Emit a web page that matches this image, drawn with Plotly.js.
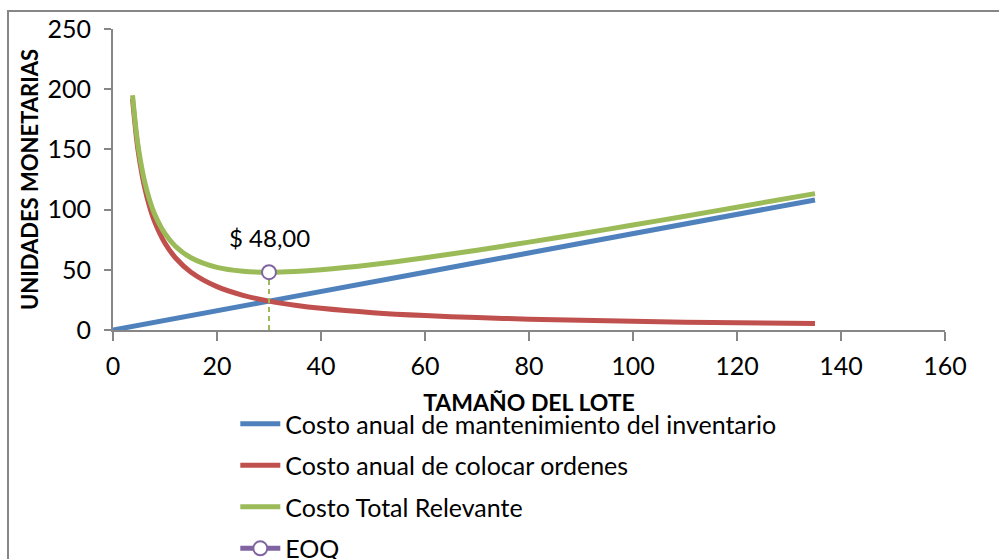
<!DOCTYPE html>
<html>
<head>
<meta charset="utf-8">
<script src="https://cdn.plot.ly/plotly-3.0.1.min.js"></script>
<style>
  html, body { margin: 0; padding: 0; background: #fff; }
  #chart { width: 999px; height: 559px; }
</style>
</head>
<body>
<div id="chart"></div>
<script>
// Lot size (units) for the ordering / total cost curves
const lotSizes = [3.75, 4.5, 5, 6, 7, 8, 10, 12, 15, 20, 25, 30, 35, 40, 50, 60, 70, 80, 90, 100, 110, 120, 135];
// Annual cost of placing orders
const orderingCost = [192, 160, 144, 120, 102.9, 90, 72, 60, 48, 36, 28.8, 24, 20.6, 18, 14.4, 12, 10.3, 9, 8, 7.2, 6.5, 6, 5.3];
// Total relevant cost (holding + ordering)
const totalCost = [195, 163.6, 148, 124.8, 108.5, 96.4, 80, 69.6, 60, 52, 48.8, 48, 48.6, 50, 54.4, 60, 66.3, 73, 80, 87.2, 94.5, 102, 113.3];
// Annual inventory holding cost
const holdingLots = [0, 30, 60, 90, 135];
const holdingCost = [0, 24, 48, 72, 108];
// Economic order quantity and its total cost
const eoqLot = [30];
const eoqCost = [48];

const seriesNames = [
  'Costo anual de mantenimiento del inventario',
  'Costo anual de colocar ordenes',
  'Costo Total Relevante',
  'EOQ'
];

const FONT = 'Lato, "Open Sans", sans-serif';
const BLUE = '#4F81BD', RED = '#C0504D', GREEN = '#9BBB59', PURPLE = '#8064A2';
const AXIS = '#868686';

const traces = [
  { x: holdingLots, y: holdingCost, name: seriesNames[0], mode: 'lines', legendgroup: 'a',
    line: { color: BLUE, width: 5, shape: 'spline' } },
  { x: lotSizes, y: orderingCost, name: seriesNames[1], mode: 'lines', legendgroup: 'b',
    line: { color: RED, width: 5, shape: 'spline', smoothing: 0.8 } },
  { x: lotSizes, y: totalCost, name: seriesNames[2], mode: 'lines', legendgroup: 'c',
    line: { color: GREEN, width: 5, shape: 'spline', smoothing: 0.8 } },
  // drop line from the EOQ point to the lot-size axis
  { x: [eoqLot[0], eoqLot[0]], y: [0, eoqCost[0]], mode: 'lines', showlegend: false, hoverinfo: 'skip',
    line: { color: GREEN, width: 2, dash: '5px,4px' } },
  { x: eoqLot, y: eoqCost, name: seriesNames[3], mode: 'lines+markers', legendgroup: 'd',
    line: { color: PURPLE, width: 5 },
    marker: { symbol: 'circle', size: 14, color: '#fff', line: { color: PURPLE, width: 2 } } }
];

const eoqLabel = '$ ' + eoqCost[0].toFixed(2).replace('.', ',');

const layout = {
  width: 999, height: 559,
  margin: { l: 113, r: 54, t: 29, b: 229, autoexpand: false },
  paper_bgcolor: '#fff', plot_bgcolor: '#fff',
  font: { family: FONT, size: 25, color: '#000' },
  showlegend: true,
  legend: {
    x: 0.147, y: -0.236, xanchor: 'left', yanchor: 'top',
    orientation: 'v', tracegroupgap: 6,
    font: { family: FONT, size: 25, color: '#000' },
    bgcolor: 'rgba(0,0,0,0)', itemwidth: 40
  },
  xaxis: {
    range: [0, 160], tickvals: [0, 20, 40, 60, 80, 100, 120, 140, 160],
    showgrid: false, zeroline: false,
    showline: true, linecolor: AXIS, linewidth: 2,
    ticks: 'outside', ticklen: 9, tickwidth: 2, tickcolor: AXIS,
    ticklabelstandoff: 4,
    tickfont: { family: FONT, size: 25 },
    title: { text: '<b>TAMAÑO DEL LOTE</b>', font: { family: FONT, size: 23 }, standoff: 16 }
  },
  yaxis: {
    range: [0, 250], tickvals: [0, 50, 100, 150, 200, 250],
    showgrid: false, zeroline: false,
    showline: true, linecolor: AXIS, linewidth: 2,
    ticks: 'outside', ticklen: 7, tickwidth: 2, tickcolor: AXIS,
    ticklabelstandoff: 8,
    tickfont: { family: FONT, size: 25 },
    title: { text: '<b>UNIDADES MONETARIAS</b>', font: { family: FONT, size: 22 }, standoff: 3 }
  },
  annotations: [
    { x: eoqLot[0], y: eoqCost[0], xref: 'x', yref: 'y', text: eoqLabel, showarrow: false,
      yshift: 35, font: { family: FONT, size: 24, color: '#000' } }
  ],
  shapes: [
    // outer chart frame
    { type: 'rect', xref: 'paper', yref: 'paper', x0: -0.1262, x1: 1.2, y0: -1.5, y1: 1.0598,
      line: { color: AXIS, width: 2 }, fillcolor: 'rgba(0,0,0,0)', layer: 'below' }
  ]
};

Plotly.newPlot('chart', traces, layout, { staticPlot: true, displayModeBar: false });
</script>
</body>
</html>
